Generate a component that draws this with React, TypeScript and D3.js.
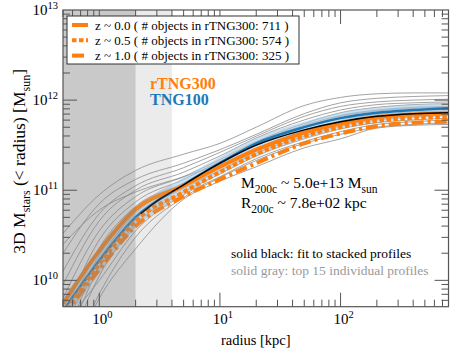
import * as d3 from "d3";

// radii (kpc) at which profiles are sampled; values are log10(M / Msun)
const radii = [0.5, 1, 2, 5, 10, 20, 50, 100, 200, 400, 785];

const z00 = [9.74, 10.33, 10.79, 11.05, 11.26, 11.45, 11.64, 11.74, 11.81, 11.84, 11.855];
const z05 = [9.62, 10.18, 10.66, 10.98, 11.2, 11.4, 11.6, 11.7, 11.77, 11.8, 11.81];
const z10 = [9.6, 10.12, 10.6, 10.93, 11.12, 11.3, 11.52, 11.63, 11.71, 11.75, 11.76];

const tng100 = [9.66, 10.22, 10.7, 11.06, 11.3, 11.52, 11.7, 11.8, 11.86, 11.89, 11.91];
const tng100Lo = [9.5, 10.08, 10.58, 10.95, 11.18, 11.38, 11.57, 11.68, 11.76, 11.8, 11.82];
const tng100Hi = [9.8, 10.34, 10.8, 11.14, 11.37, 11.58, 11.76, 11.86, 11.92, 11.95, 11.96];

const fitRadii = [2.2, 3, 5, 10, 20, 50, 100, 200, 400, 785];
const fitValues = [10.74, 10.88, 11.06, 11.3, 11.5, 11.67, 11.76, 11.82, 11.85, 11.86];

const grayProfiles = [
  [10.52, 10.95, 11.22, 11.4, 11.52, 11.7, 11.94, 12.03, 12.07, 12.08, 12.08],
  [8.9, 9.8, 10.35, 10.9, 11.1, 11.26, 11.47, 11.57, 11.69, 11.72, 11.73],
  [10.3, 10.85, 11.12, 11.3, 11.45, 11.62, 11.85, 11.97, 12.02, 12.04, 12.05],
  [10.1, 10.74, 11.05, 11.25, 11.42, 11.6, 11.82, 11.93, 11.98, 12.0, 12.01],
  [9.95, 10.66, 11.0, 11.2, 11.38, 11.58, 11.78, 11.89, 11.95, 11.97, 11.98],
  [9.8, 10.55, 10.93, 11.15, 11.34, 11.54, 11.74, 11.86, 11.92, 11.95, 11.96],
  [9.6, 10.45, 10.87, 11.12, 11.32, 11.52, 11.72, 11.83, 11.89, 11.92, 11.93],
  [9.5, 10.36, 10.82, 11.08, 11.3, 11.5, 11.7, 11.8, 11.86, 11.89, 11.9],
  [9.4, 10.28, 10.78, 11.06, 11.27, 11.46, 11.66, 11.77, 11.84, 11.87, 11.88],
  [9.3, 10.22, 10.75, 11.05, 11.25, 11.44, 11.63, 11.74, 11.81, 11.84, 11.86],
  [9.2, 10.15, 10.7, 11.02, 11.22, 11.41, 11.6, 11.71, 11.78, 11.81, 11.83],
  [9.1, 10.05, 10.62, 10.98, 11.18, 11.38, 11.57, 11.68, 11.75, 11.78, 11.8],
  [9.5, 10.0, 10.55, 10.95, 11.15, 11.35, 11.54, 11.65, 11.73, 11.76, 11.78],
  [8.95, 9.85, 10.48, 10.92, 11.14, 11.33, 11.52, 11.62, 11.7, 11.73, 11.75],
  [10.4, 10.78, 10.98, 11.15, 11.3, 11.5, 11.7, 11.82, 11.88, 11.91, 11.92],
];

const legendLabels = [
  "z ~ 0.0 ( # objects in rTNG300: 711 )",
  "z ~ 0.5 ( # objects in rTNG300: 574 )",
  "z ~ 1.0 ( # objects in rTNG300: 325 )",
];
const xTickExps = [0, 1, 2];
const yTickExps = [10, 11, 12, 13];

const ORANGE = "#ff7f0e";
const BLUE = "#1f77b4";
const FONT = "'Liberation Serif', 'DejaVu Serif', serif";

const left = 63, right = 448.5, top = 10, bottom = 306.7;

export default function App() {
  const x = d3.scaleLog().domain([0.5, 785]).range([left, right]);
  const y = d3.scaleLog().domain([5.1e9, 1e13]).range([bottom, top]);

  const line = (rs: number[], vs: number[]) =>
    d3
      .line<number>()
      .x((_, i) => x(rs[i]))
      .y((v) => y(Math.pow(10, v)))
      .curve(d3.curveMonotoneX)(vs) as string;

  const band = d3
    .area<number>()
    .x((_, i) => x(radii[i]))
    .y0((_, i) => y(Math.pow(10, tng100Lo[i])))
    .y1((_, i) => y(Math.pow(10, tng100Hi[i])))
    .curve(d3.curveMonotoneX)(radii) as string;

  const xMinor: number[] = [];
  for (let e = -1; e <= 2; e++)
    for (let m = 1; m < 10; m++) {
      const v = m * Math.pow(10, e);
      if (v >= 0.5 && v <= 785) xMinor.push(v);
    }
  const yMinor: number[] = [];
  for (let e = 9; e <= 12; e++)
    for (let m = 1; m < 10; m++) {
      const v = m * Math.pow(10, e);
      if (v >= 5.1e9 && v <= 1e13) yMinor.push(v);
    }
  const isMajor = (v: number) => Math.abs(Math.log10(v) - Math.round(Math.log10(v))) < 1e-9;
  const tickColor = "#555";

  return (
    <svg width={463} height={358} style={{ position: "absolute", left: 0, top: 0 }} fontFamily={FONT}>
      <defs>
        <clipPath id="plot">
          <rect x={left} y={top} width={right - left} height={bottom - top} />
        </clipPath>
      </defs>
      <rect x={0} y={0} width={463} height={358} fill="white" />
      <g clipPath="url(#plot)">
        {grayProfiles.map((p, i) => (
          <path key={i} d={line(radii, p)} fill="none" stroke="#8c8c8c" strokeWidth={0.8} />
        ))}
        <path d={band} fill="#a6cbe6" fillOpacity={0.6} />
        <path d={line(radii, tng100)} fill="none" stroke={BLUE} strokeWidth={2.5} />
        <path d={line(radii, z10)} fill="none" stroke={ORANGE} strokeWidth={4} strokeDasharray="12,4,3,4" />
        <path d={line(radii, z05)} fill="none" stroke={ORANGE} strokeWidth={4} strokeDasharray="4.5,2.5" />
        <path d={line(radii, z00)} fill="none" stroke={ORANGE} strokeWidth={4} />
        <path d={line(fitRadii, fitValues)} fill="none" stroke="black" strokeWidth={1.5} />
        <rect x={left} y={top} width={x(2) - left} height={bottom - top} fill="#888" fillOpacity={0.45} />
        <rect x={x(2)} y={top} width={x(4) - x(2)} height={bottom - top} fill="#999" fillOpacity={0.2} />
      </g>

      {/* ticks */}
      {xMinor.map((v, i) => {
        const len = isMajor(v) ? 14 : 7;
        return (
          <g key={"xt" + i} stroke={tickColor} strokeWidth={1}>
            <line x1={x(v)} x2={x(v)} y1={bottom} y2={bottom - len} />
            <line x1={x(v)} x2={x(v)} y1={top} y2={top + len} />
          </g>
        );
      })}
      {yMinor.map((v, i) => {
        const len = isMajor(v) ? 14 : 7;
        return (
          <g key={"yt" + i} stroke={tickColor} strokeWidth={1}>
            <line x1={left} x2={left + len} y1={y(v)} y2={y(v)} />
            <line x1={right} x2={right - len} y1={y(v)} y2={y(v)} />
          </g>
        );
      })}
      <rect x={left} y={top} width={right - left} height={bottom - top} fill="none" stroke={tickColor} strokeWidth={1.2} />

      {/* tick labels */}
      {xTickExps.map((e) => (
        <text key={"xl" + e} x={x(Math.pow(10, e)) + 3} y={bottom + 17} textAnchor="middle" fontSize={15}>
          10<tspan dy={-6} fontSize={10.5}>{e}</tspan>
        </text>
      ))}
      {yTickExps.map((e) => (
        <text key={"yl" + e} x={58} y={y(Math.pow(10, e)) + 5} textAnchor="end" fontSize={15}>
          10<tspan dy={-6} fontSize={10.5}>{e}</tspan>
        </text>
      ))}

      {/* axis labels */}
      <text x={(left + right) / 2} y={345} textAnchor="middle" fontSize={14.5}>
        radius [kpc]
      </text>
      <text transform={`translate(25,${(top + bottom) / 2 + 3}) rotate(-90)`} textAnchor="middle" fontSize={17.5}>
        3D M<tspan dy={5} fontSize={12}>stars</tspan>
        <tspan dy={-5}> (&lt; radius) [M</tspan>
        <tspan dy={5} fontSize={12}>sun</tspan>
        <tspan dy={-5}>]</tspan>
      </text>

      {/* annotations */}
      <text x={150} y={89} fontSize={16} fontWeight="bold" fill={ORANGE}>rTNG300</text>
      <text x={150} y={104.5} fontSize={16} fontWeight="bold" fill={BLUE}>TNG100</text>

      <text x={241} y={188} fontSize={15.5}>
        M<tspan dy={5} fontSize={11.5}>200c</tspan>
        <tspan dy={-5}> ~ 5.0e+13 M</tspan>
        <tspan dy={5} fontSize={11.5}>sun</tspan>
      </text>
      <text x={241} y={207.5} fontSize={15.5}>
        R<tspan dy={5} fontSize={11.5}>200c</tspan>
        <tspan dy={-5}> ~ 7.8e+02 kpc</tspan>
      </text>
      <text x={231} y={258} fontSize={13.5}>solid black: fit to stacked profiles</text>
      <text x={231} y={275} fontSize={13.5} fill="#999">solid gray: top 15 individual profiles</text>

      {/* legend */}
      <rect x={67} y={16} width={232} height={48} fill="white" stroke="#333" strokeWidth={1} />
      {legendLabels.map((lab, i) => {
        const ly = 25 + i * 15.3;
        const dash = i === 0 ? undefined : i === 1 ? "4.5,2.5" : "12,4,3,4";
        return (
          <g key={"lg" + i}>
            <line x1={72} x2={88} y1={ly} y2={ly} stroke={ORANGE} strokeWidth={4} strokeDasharray={dash} />
            <text x={95} y={ly + 4.5} fontSize={13}>{lab}</text>
          </g>
        );
      })}
    </svg>
  );
}
